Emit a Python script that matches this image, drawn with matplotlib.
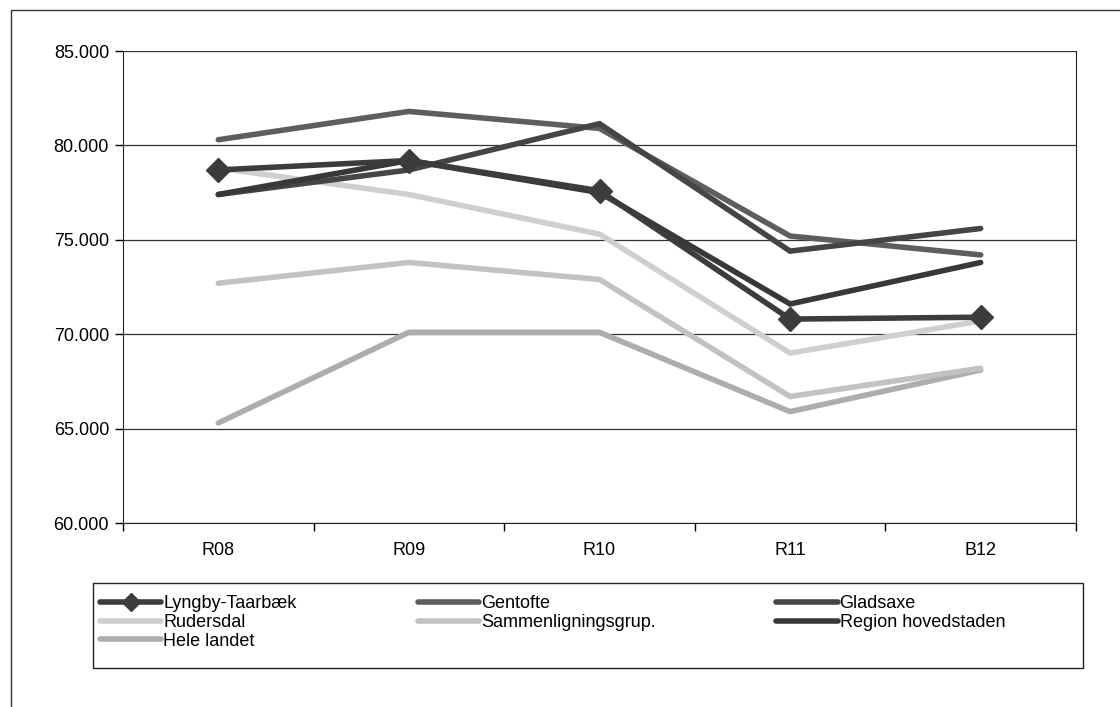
# Line chart: municipal values R08-B12
import matplotlib.pyplot as plt
from matplotlib.patches import Rectangle

plt.rcParams['font.family'] = ['Liberation Sans', 'DejaVu Sans']

years = ["R08", "R09", "R10", "R11", "B12"]

lyngby = [78700, 79200, 77600, 70800, 70900]
gentofte = [80300, 81800, 80900, 75200, 74200]
gladsaxe = [77400, 78700, 81150, 74400, 75600]
rudersdal = [78800, 77400, 75300, 69000, 70700]
sammenlign = [72700, 73800, 72900, 66700, 68200]
region = [77400, 79200, 77500, 71600, 73800]
hele_landet = [65300, 70100, 70100, 65900, 68100]

names = ["Lyngby-Taarbæk", "Gentofte", "Gladsaxe", "Rudersdal",
         "Sammenligningsgrup.", "Region hovedstaden", "Hele landet"]
series = [lyngby, gentofte, gladsaxe, rudersdal, sammenlign, region, hele_landet]
colors = ["#3c3c3c", "#5e5e5e", "#454545", "#cfcfcf", "#c2c2c2", "#383838", "#adadad"]
markers = ["D", None, None, None, None, None, None]

fig = plt.figure(figsize=(11.2, 7.07), dpi=100)
ax = fig.add_axes([123 / 1120, 1 - 523 / 707, (1076 - 123) / 1120, (523 - 51) / 707])

x = list(range(len(years)))
# draw light lines first, dark on top
order = [6, 4, 3, 1, 2, 5, 0]
handles = {}
for i in order:
    h, = ax.plot(x, series[i], color=colors[i], lw=4, marker=markers[i],
                 markersize=12, markeredgecolor=colors[i], solid_capstyle='round',
                 solid_joinstyle='miter', label=names[i])
    handles[i] = h

ax.set_xlim(-0.5, 4.5)
ax.set_ylim(60000, 85000)
ax.set_yticks([60000, 65000, 70000, 75000, 80000, 85000])
ax.set_yticklabels(["60.000", "65.000", "70.000", "75.000", "80.000", "85.000"], fontsize=13)
ax.set_xticks(x)
ax.set_xticklabels(years, fontsize=13)
ax.tick_params(axis='x', which='major', length=0, pad=14)
ax.set_xticks([-0.5, 0.5, 1.5, 2.5, 3.5, 4.5], minor=True)
ax.tick_params(axis='x', which='minor', length=6, direction='out', width=1)
ax.tick_params(axis='y', length=6, direction='out', width=1, pad=4)
ax.yaxis.grid(True, color='#333333', lw=0.9)
ax.set_axisbelow(True)
for s in ['left', 'bottom', 'right']:
    ax.spines[s].set_color('#222222')
ax.spines['top'].set_visible(False)

# matplotlib fills legend columns first, reorder so rows read like the original
leg_order = [0, 3, 6, 1, 4, 2, 5]
leg = fig.legend([handles[i] for i in leg_order], [names[i] for i in leg_order], ncol=3,
                 loc='upper left', bbox_to_anchor=(91 / 1120, 1 - 586 / 707),
                 fontsize=13, frameon=False,
                 handlelength=3.4, handletextpad=0.1, labelspacing=0.1,
                 borderpad=0.0, columnspacing=6.7, markerscale=0.8)

# legend box
fig.patches.append(Rectangle((93 / 1120, 1 - 668 / 707), 990 / 1120, 85 / 707,
                             transform=fig.transFigure, fill=False,
                             edgecolor='#222222', lw=1))

# outer chart border (cut off at right and bottom in the scan)
fig.patches.append(Rectangle((11 / 1120, -0.05), 1.2, 1 - 10 / 707 + 0.05,
                             transform=fig.transFigure, fill=False,
                             edgecolor='#333333', lw=1))

fig.savefig("out.png", dpi=100)
